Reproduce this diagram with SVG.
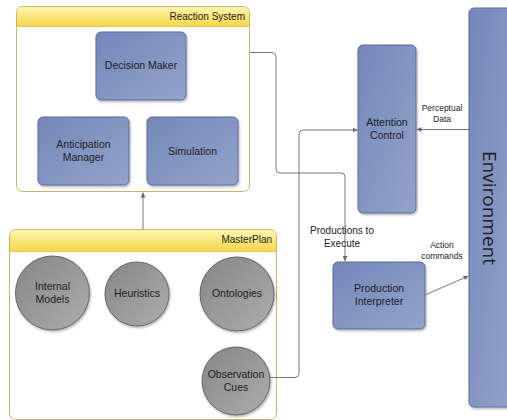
<svg xmlns="http://www.w3.org/2000/svg" width="507" height="420" viewBox="0 0 507 420">
<defs>
<linearGradient id="blue" x1="0" y1="0" x2="1" y2="1">
<stop offset="0" stop-color="#7487b9"/>
<stop offset="1" stop-color="#93a3ca"/>
</linearGradient>
<linearGradient id="gray" x1="0" y1="0" x2="1" y2="1">
<stop offset="0" stop-color="#858585"/>
<stop offset="1" stop-color="#adadad"/>
</linearGradient>
<linearGradient id="yellow" x1="0" y1="0" x2="0" y2="1">
<stop offset="0" stop-color="#fff6b0"/>
<stop offset="1" stop-color="#f6d64a"/>
</linearGradient>
<marker id="arr" viewBox="0 0 6 6" refX="6" refY="3" markerWidth="5" markerHeight="5" orient="auto" markerUnits="userSpaceOnUse">
<path d="M0,0 L6,3 L0,6 z" fill="#6a6a6a"/>
</marker>
<filter id="sh" x="-10%" y="-10%" width="130%" height="130%">
<feDropShadow dx="1" dy="1.5" stdDeviation="1" flood-color="#000" flood-opacity="0.3"/>
</filter>
</defs>
<style>
.box{fill:url(#blue);stroke:#5d6d9c;stroke-width:1;filter:url(#sh)}
.circ{fill:url(#gray);stroke:#666;stroke-width:1;filter:url(#sh)}
.cont{fill:#fff;stroke:#c9b56a;stroke-width:1}
.hdr{fill:url(#yellow)}
.t{font-family:"Liberation Sans",Arial,sans-serif;font-size:10.5px;fill:#222;text-anchor:middle}
.h{font-family:"Liberation Sans",Arial,sans-serif;font-size:10px;fill:#222;text-anchor:end}
.lbl{font-family:"Liberation Sans",Arial,sans-serif;font-size:8.5px;fill:#222;text-anchor:middle}
.lbl2{font-family:"Liberation Sans",Arial,sans-serif;font-size:10px;fill:#222;text-anchor:middle}
.c{fill:none;stroke:#777;stroke-width:1}
</style>

<g id="reaction-system">
<rect class="cont" x="16.5" y="6.5" width="233" height="185" rx="6"/>
<path class="hdr" d="M17,26 V12.5 a5.5,5.5 0 0 1 5.5,-5.5 H243.5 a5.5,5.5 0 0 1 5.5,5.5 V26 z"/>
<line x1="17" y1="26.5" x2="249" y2="26.5" stroke="#e0c860" stroke-width="1"/>
<text class="h" x="245" y="20">Reaction System</text>
</g>
<g id="decision-maker">
<rect class="box" x="96" y="32" width="90" height="68" rx="5"/>
<text class="t" x="141" y="69">Decision Maker</text>
</g>
<g id="anticipation-manager">
<rect class="box" x="38" y="117" width="91" height="68" rx="5"/>
<text class="t" x="83.5" y="148">Anticipation</text>
<text class="t" x="83.5" y="161">Manager</text>
</g>
<g id="simulation">
<rect class="box" x="147" y="117" width="91" height="68" rx="5"/>
<text class="t" x="192.5" y="155">Simulation</text>
</g>

<g id="masterplan">
<rect class="cont" x="9.5" y="229.5" width="267" height="190" rx="6"/>
<path class="hdr" d="M10,251 V235.5 a5.5,5.5 0 0 1 5.5,-5.5 H270.5 a5.5,5.5 0 0 1 5.5,5.5 V251 z"/>
<line x1="10" y1="251.5" x2="276" y2="251.5" stroke="#e0c860" stroke-width="1"/>
<text class="h" x="272" y="243">MasterPlan</text>
</g>
<g id="internal-models">
<circle class="circ" cx="52.5" cy="293" r="37"/>
<text class="t" x="52.5" y="290">Internal</text>
<text class="t" x="52.5" y="303">Models</text>
</g>
<g id="heuristics">
<circle class="circ" cx="137" cy="294" r="32"/>
<text class="t" x="137" y="297">Heuristics</text>
</g>
<g id="ontologies">
<circle class="circ" cx="237" cy="294" r="37"/>
<text class="t" x="237" y="297">Ontologies</text>
</g>
<g id="observation-cues">
<circle class="circ" cx="236" cy="381" r="34"/>
<text class="t" x="236" y="378">Observation</text>
<text class="t" x="236" y="391">Cues</text>
</g>

<g id="attention-control">
<rect class="box" x="358" y="45" width="58" height="168" rx="5"/>
<text class="t" x="387" y="126">Attention</text>
<text class="t" x="387" y="139">Control</text>
</g>
<g id="production-interpreter">
<rect class="box" x="333" y="262" width="92" height="67" rx="5"/>
<text class="t" x="379" y="292">Production</text>
<text class="t" x="379" y="305">Interpreter</text>
</g>
<g id="environment">
<rect class="box" x="469" y="8" width="50" height="399" rx="5"/>
<text x="488" y="208" transform="rotate(90 488 208)" font-family="Open Sans,Liberation Sans,sans-serif" font-size="19" fill="#222" text-anchor="middle" dominant-baseline="middle">Environment</text>
</g>

<g id="connectors">
<line class="c" x1="143" y1="229" x2="143" y2="192.5" marker-end="url(#arr)"/>
<path class="c" d="M250,52.5 H272 a4,4 0 0 1 4,4 V169 a4,4 0 0 0 4,4 H341 a4,4 0 0 1 4,4 V261" marker-end="url(#arr)"/>
<path class="c" d="M270,377.5 H295 a4,4 0 0 0 4,-4 V134 a4,4 0 0 1 4,-4 H357.5" marker-end="url(#arr)"/>
<line class="c" x1="469" y1="129.5" x2="416.5" y2="129.5" marker-end="url(#arr)"/>
<line class="c" x1="425" y1="295" x2="468.5" y2="276" marker-end="url(#arr)"/>
<text class="lbl" x="442" y="111">Perceptual</text>
<text class="lbl" x="442" y="122">Data</text>
<text class="lbl" x="442" y="248">Action</text>
<text class="lbl" x="442" y="259">commands</text>
<text class="lbl2" x="342" y="234">Productions to</text>
<text class="lbl2" x="342" y="247">Execute</text>
</g>
</svg>
